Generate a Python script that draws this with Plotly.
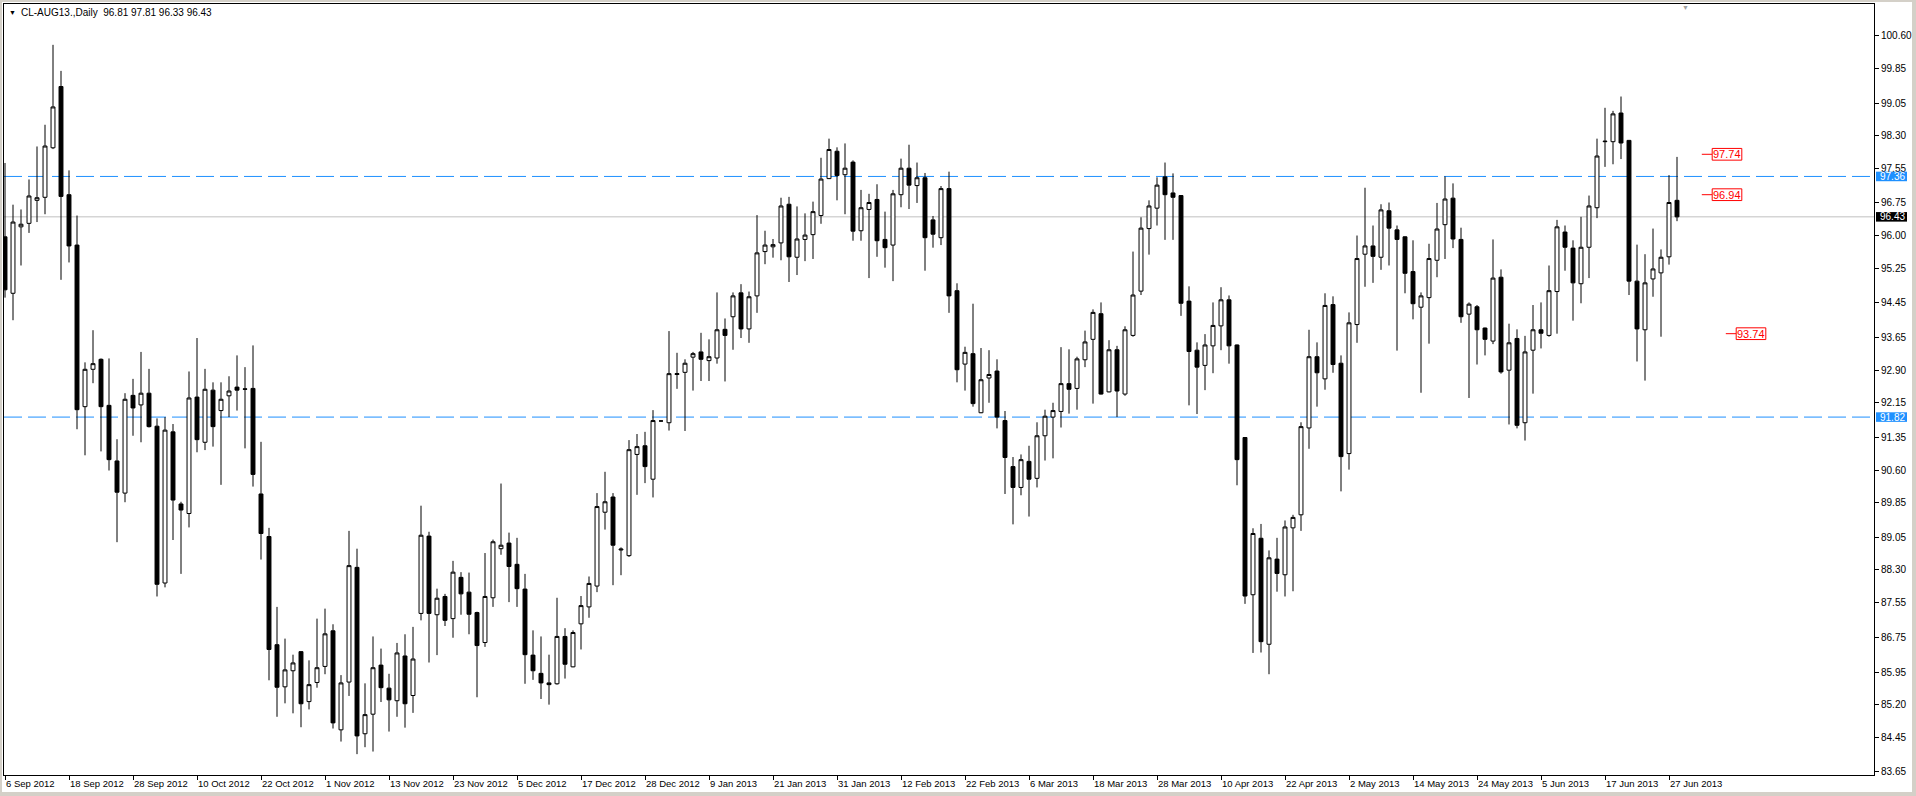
import plotly.graph_objects as go

# ---------------- data ----------------
date_labels = ["6 Sep 2012", "18 Sep 2012", "28 Sep 2012", "10 Oct 2012", "22 Oct 2012",
               "1 Nov 2012", "13 Nov 2012", "23 Nov 2012", "5 Dec 2012", "17 Dec 2012",
               "28 Dec 2012", "9 Jan 2013", "21 Jan 2013", "31 Jan 2013", "12 Feb 2013",
               "22 Feb 2013", "6 Mar 2013", "18 Mar 2013", "28 Mar 2013", "10 Apr 2013",
               "22 Apr 2013", "2 May 2013", "14 May 2013", "24 May 2013", "5 Jun 2013",
               "17 Jun 2013", "27 Jun 2013"]
bars_per_label = 8

opens = [95.97, 94.67, 96.20, 96.28, 96.81, 96.88, 98.02, 99.43, 96.94, 95.78,
         92.06, 92.92, 93.15, 92.09, 90.81, 90.07, 92.32, 92.10, 92.37, 91.61,
         88.00, 91.48, 89.82, 89.60, 92.28, 91.24, 92.44, 91.97, 92.31, 92.51,
         92.47, 92.48, 90.05, 89.07, 86.58, 85.61, 85.98, 86.42, 85.27, 85.71,
         86.08, 86.90, 84.62, 85.72, 88.36, 84.53, 84.98, 86.11, 85.58, 85.29,
         86.32, 85.41, 87.30, 89.08, 87.27, 87.69, 87.18, 88.13, 87.79, 87.32,
         86.63, 87.66, 88.79, 88.92, 88.43, 87.86, 86.34, 85.92, 85.70, 85.68,
         86.77, 86.07, 87.06, 87.45, 87.93, 89.63, 89.98, 88.76, 88.63, 90.96,
         91.16, 90.39, 91.73, 91.69, 92.80, 92.85, 93.20, 93.32, 93.12, 93.18,
         93.84, 94.13, 94.68, 93.85, 94.61, 95.63, 95.74, 95.83, 96.72, 95.50,
         95.91, 96.02, 96.46, 97.31, 97.94, 97.40, 97.69, 96.11, 96.60, 96.83,
         95.91, 95.78, 96.94, 97.55, 97.15, 97.33, 96.36, 95.95, 97.08, 94.73,
         93.04, 93.28, 91.92, 92.72, 92.88, 91.74, 90.68, 90.20, 90.80, 90.41,
         91.39, 91.82, 91.95, 92.59, 92.48, 93.14, 93.61, 94.20, 92.40, 93.37,
         92.35, 93.70, 94.72, 96.16, 96.63, 97.35, 96.98, 96.92, 94.49, 93.36,
         93.01, 93.46, 93.92, 94.52, 93.48, 91.35, 87.73, 89.03, 86.59, 88.55,
         88.19, 89.27, 89.57, 91.57, 93.21, 92.70, 94.41, 93.06, 90.98, 93.95,
         95.57, 95.76, 95.50, 96.57, 96.13, 95.97, 95.17, 94.35, 94.57, 95.43,
         96.25, 96.86, 95.91, 94.19, 94.36, 93.87, 93.57, 95.04, 92.90, 93.63,
         91.69, 93.36, 93.83, 93.70, 94.71, 96.08, 95.71, 94.89, 95.73, 96.64,
         98.16, 98.16, 98.82, 98.19, 94.95, 93.83, 95.00, 95.14, 95.51, 96.81]
highs = [97.67, 96.71, 96.60, 97.29, 98.05, 98.55, 100.39, 99.79, 97.50, 96.46,
         93.08, 93.82, 93.17, 93.17, 91.31, 92.37, 92.70, 93.32, 92.93, 91.79,
         91.82, 91.66, 89.87, 92.87, 93.64, 92.93, 92.62, 92.62, 92.76, 93.24,
         92.97, 93.47, 91.25, 89.27, 87.45, 86.72, 86.35, 86.43, 86.22, 87.18,
         87.41, 87.05, 85.88, 89.20, 88.79, 85.69, 86.77, 86.49, 85.91, 86.62,
         86.82, 86.99, 89.78, 89.18, 87.87, 87.75, 88.51, 88.25, 88.24, 87.34,
         88.69, 89.00, 90.29, 89.16, 89.04, 88.21, 86.91, 86.77, 86.35, 87.66,
         86.96, 86.91, 87.70, 88.15, 90.07, 90.56, 90.07, 88.82, 91.29, 91.43,
         91.48, 91.98, 91.74, 93.80, 93.30, 93.15, 93.32, 93.76, 93.61, 94.69,
         94.09, 94.69, 94.88, 94.71, 96.47, 96.11, 95.92, 96.87, 96.89, 96.67,
         96.51, 96.78, 97.79, 98.23, 98.03, 98.12, 97.73, 97.05, 96.96, 97.18,
         96.55, 97.05, 97.77, 98.09, 97.68, 97.44, 96.45, 97.14, 97.47, 94.90,
         93.44, 94.43, 93.41, 93.36, 93.15, 91.96, 90.90, 90.96, 91.16, 91.70,
         91.99, 92.15, 93.43, 93.38, 93.21, 93.81, 94.30, 94.46, 93.59, 93.46,
         93.91, 95.63, 96.42, 96.81, 97.34, 97.68, 97.43, 96.93, 94.83, 93.54,
         93.73, 94.46, 94.81, 94.62, 93.49, 91.36, 89.26, 89.36, 88.75, 89.04,
         89.44, 89.57, 91.70, 93.83, 93.54, 94.67, 94.60, 93.24, 94.23, 96.00,
         97.10, 96.23, 96.72, 96.76, 96.23, 95.98, 95.89, 94.69, 95.81, 96.75,
         97.36, 97.20, 96.18, 94.46, 94.40, 93.88, 95.91, 95.22, 93.97, 93.84,
         93.69, 94.40, 94.46, 95.31, 96.36, 96.23, 95.89, 96.43, 96.92, 98.23,
         98.94, 98.87, 99.20, 98.20, 95.79, 95.57, 96.16, 95.68, 97.39, 97.81]
lows = [94.57, 94.05, 95.31, 96.06, 96.31, 96.49, 97.99, 94.98, 95.38, 91.54,
        90.94, 92.60, 91.03, 90.59, 88.94, 89.86, 91.39, 91.24, 91.58, 87.69,
        87.90, 88.99, 88.21, 89.28, 91.01, 91.06, 91.14, 90.26, 91.82, 91.97,
        91.10, 90.22, 88.54, 85.76, 84.92, 85.23, 85.00, 84.68, 85.09, 85.59,
        85.90, 84.65, 84.35, 85.40, 84.06, 84.22, 84.12, 85.26, 84.58, 84.92,
        84.67, 85.01, 87.14, 86.17, 86.34, 87.01, 86.74, 87.27, 86.82, 85.37,
        86.53, 87.45, 88.65, 87.56, 87.45, 85.68, 85.77, 85.33, 85.20, 85.66,
        85.80, 86.06, 86.47, 87.20, 87.79, 89.23, 87.95, 88.18, 88.60, 90.03,
        90.30, 89.97, 91.72, 91.51, 92.47, 91.50, 92.43, 92.65, 92.65, 93.05,
        92.64, 93.37, 93.64, 93.53, 94.22, 95.34, 95.49, 95.43, 94.93, 95.09,
        95.41, 95.46, 96.27, 97.30, 96.81, 96.49, 95.88, 95.88, 95.02, 95.51,
        95.26, 94.95, 96.65, 96.61, 96.75, 95.19, 95.72, 95.78, 94.22, 92.62,
        92.43, 92.06, 91.91, 92.15, 91.56, 90.05, 89.35, 90.02, 89.53, 90.20,
        90.82, 90.87, 91.58, 91.90, 91.99, 92.97, 92.13, 92.34, 92.39, 91.82,
        92.31, 93.67, 94.63, 95.56, 96.23, 95.90, 95.90, 94.15, 92.09, 91.89,
        92.44, 92.83, 93.36, 93.05, 90.25, 87.52, 86.39, 86.40, 85.90, 87.80,
        87.69, 87.81, 89.20, 91.09, 92.06, 92.45, 92.84, 90.11, 90.61, 93.53,
        94.82, 94.91, 95.21, 95.31, 93.35, 94.67, 94.07, 92.38, 93.51, 95.04,
        95.46, 95.71, 93.99, 92.26, 93.03, 93.24, 93.50, 92.82, 91.65, 91.56,
        91.28, 92.36, 93.40, 93.67, 93.74, 95.19, 94.04, 94.44, 95.02, 96.40,
        97.58, 97.64, 97.76, 94.63, 93.10, 92.66, 94.59, 93.67, 95.33, 96.33]
closes = [94.75, 96.31, 96.26, 96.91, 96.87, 98.06, 98.96, 96.90, 95.76, 91.99,
          92.92, 93.05, 92.06, 90.84, 90.09, 92.23, 92.03, 92.37, 91.60, 87.97,
          91.52, 89.91, 89.68, 92.26, 91.30, 92.46, 91.60, 92.23, 92.42, 92.44,
          92.46, 90.50, 89.14, 86.47, 85.60, 86.00, 86.16, 85.22, 85.66, 86.05,
          86.83, 84.78, 85.70, 88.40, 84.48, 84.97, 86.05, 85.59, 85.31, 86.39,
          85.22, 86.25, 89.10, 87.30, 87.65, 87.14, 88.25, 87.75, 87.28, 86.56,
          87.69, 88.95, 88.87, 88.38, 87.87, 86.35, 85.98, 85.70, 85.66, 86.77,
          86.13, 86.86, 87.48, 87.99, 89.76, 89.87, 88.87, 88.78, 91.07, 91.14,
          90.68, 91.74, 91.73, 92.82, 92.82, 93.06, 93.28, 93.15, 93.21, 93.83,
          93.70, 94.61, 93.85, 94.59, 95.60, 95.78, 95.79, 96.68, 95.51, 95.92,
          96.01, 96.55, 97.30, 97.98, 97.38, 97.55, 96.10, 96.64, 96.76, 95.88,
          95.72, 96.96, 97.55, 97.16, 97.33, 95.95, 96.03, 97.08, 94.61, 92.91,
          93.31, 92.13, 92.68, 92.80, 91.82, 90.89, 90.20, 90.84, 90.39, 91.39,
          91.84, 91.97, 92.59, 92.46, 93.16, 93.55, 94.23, 92.35, 93.37, 92.42,
          93.83, 94.63, 96.17, 96.68, 97.16, 96.94, 96.88, 94.44, 93.33, 92.97,
          93.48, 93.93, 94.52, 93.46, 90.84, 87.70, 89.14, 86.65, 88.58, 88.22,
          89.29, 89.51, 91.60, 93.21, 92.84, 94.39, 93.03, 90.91, 93.99, 95.47,
          95.76, 95.52, 96.59, 96.17, 95.91, 95.13, 94.43, 94.61, 95.47, 96.15,
          96.84, 95.92, 94.13, 94.42, 93.83, 93.61, 95.02, 92.86, 93.53, 91.63,
          93.32, 93.83, 93.75, 94.73, 96.20, 95.73, 94.91, 95.73, 96.68, 97.83,
          98.17, 98.80, 98.13, 94.95, 93.85, 94.91, 95.23, 95.50, 96.76, 96.43]

price_tick_labels = ["100.60", "99.85", "99.05", "98.30", "97.55", "96.75", "96.00",
                     "95.25", "94.45", "93.65", "92.90", "92.15", "91.35", "90.60",
                     "89.85", "89.05", "88.30", "87.55", "86.75", "85.95", "85.20",
                     "84.45", "83.65"]

level_lines = [97.36, 91.82]
last_price = 96.43
title_text = "CL-AUG13.,Daily  96.81 97.81 96.33 96.43"
marker_texts = ["97.74", "96.94", "93.74"]

# ---------------- layout / positions ----------------
W, H = 1916, 796
ML, MR, MT, MB = 4, 42, 4, 21
PW, PH = W - ML - MR, H - MT - MB
y_range = [83.58, 101.33]
x_range = [-0.125, 233.625]


def px_x(px):
    return (px - ML) / PW


def px_y(py):
    return (H - MB - py) / PH


marker_levels = [97.87, 96.94, 93.74]
marker_box_left = [213.4, 213.4, 216.4]
marker_box_w = 3.7
marker_stem = 1.3
marker_half_h = 0.135

n = len(opens)
xs = list(range(n))

fig = go.Figure()
fig.add_trace(go.Candlestick(
    x=xs, open=opens, high=highs, low=lows, close=closes,
    increasing=dict(line=dict(color="black", width=1), fillcolor="white"),
    decreasing=dict(line=dict(color="black", width=1), fillcolor="black"),
    whiskerwidth=0, hoverinfo="skip", showlegend=False,
))

shapes = []
for lv in level_lines:
    shapes.append(dict(type="line", xref="paper", yref="y", x0=0, x1=1, y0=lv, y1=lv,
                       line=dict(color="#1e90ff", width=1, dash="18px,6px"), layer="below"))
shapes.append(dict(type="line", xref="paper", yref="y", x0=0, x1=1, y0=last_price, y1=last_price,
                   line=dict(color="#c0c0c0", width=1), layer="below"))

annotations = []
# axis price boxes
for lv, bg in [(level_lines[0], "#1e90ff"), (level_lines[1], "#1e90ff"), (last_price, "black")]:
    shapes.append(dict(type="rect", xref="paper", yref="y", x0=px_x(1876), x1=px_x(1907),
                       y0=lv - 0.11, y1=lv + 0.11, fillcolor=bg, line=dict(width=0), layer="above"))
    annotations.append(dict(xref="paper", yref="y", x=px_x(1878), y=lv, xanchor="left",
                            yanchor="middle", text=f"{lv:.2f}", showarrow=False,
                            font=dict(color="white", size=10, family="Liberation Sans")))

# red price markers
for txt, lv, bx in zip(marker_texts, marker_levels, marker_box_left):
    shapes.append(dict(type="line", xref="x", yref="y", x0=bx - marker_stem, x1=bx, y0=lv, y1=lv,
                       line=dict(color="red", width=1)))
    shapes.append(dict(type="rect", xref="x", yref="y", x0=bx, x1=bx + marker_box_w,
                       y0=lv - marker_half_h, y1=lv + marker_half_h,
                       line=dict(color="red", width=1), fillcolor="white"))
    annotations.append(dict(xref="x", yref="y", x=bx + marker_box_w / 2, y=lv, xanchor="center",
                            yanchor="middle", text=txt, showarrow=False,
                            font=dict(color="red", size=11, family="Liberation Sans")))

# title
annotations.append(dict(xref="paper", yref="paper", x=px_x(7), y=px_y(12.5), xanchor="left",
                        yanchor="middle", text="\u25BC", showarrow=False,
                        font=dict(color="black", size=7)))
annotations.append(dict(xref="paper", yref="paper", x=px_x(19), y=px_y(12.5), xanchor="left",
                        yanchor="middle", text=title_text, showarrow=False,
                        font=dict(color="black", size=10, family="Liberation Sans")))
# small shift marker at top
annotations.append(dict(xref="x", yref="paper", x=210.1, y=px_y(2), xanchor="center",
                        yanchor="top", text="\u25BC", showarrow=False,
                        font=dict(color="#a0a0a0", size=7)))

# outer window frame
for (a, b, c, d) in [(0, 2, 0, H), (0, W, 0, 2), (W - 4, W, 0, H), (0, W, H - 4, H)]:
    shapes.append(dict(type="rect", xref="paper", yref="paper", x0=px_x(a), x1=px_x(b),
                       y0=px_y(d), y1=px_y(c), fillcolor="#d4d0c8", line=dict(width=0)))

fig.update_layout(
    width=W, height=H, template="none",
    margin=dict(l=ML, r=MR, t=MT, b=MB, pad=0),
    paper_bgcolor="white", plot_bgcolor="white",
    font=dict(family="Liberation Sans", size=10, color="black"),
    showlegend=False, boxgap=0.3, boxgroupgap=0.3,
    shapes=shapes, annotations=annotations,
    xaxis=dict(range=x_range, rangeslider=dict(visible=False), showgrid=False, zeroline=False,
               tickmode="array", tickvals=[i * bars_per_label for i in range(len(date_labels))],
               ticktext=date_labels, ticks="outside", ticklen=4, tickcolor="black",
               ticklabelposition="outside right",
               showline=True, linecolor="black", linewidth=1, mirror=True,
               tickfont=dict(size=9.5, color="black", family="Liberation Sans")),
    yaxis=dict(range=y_range, side="right", showgrid=False, zeroline=False,
               tickmode="array", tickvals=[float(t) for t in price_tick_labels],
               ticktext=price_tick_labels, ticks="outside", ticklen=4, tickcolor="black",
               showline=True, linecolor="black", linewidth=1, mirror=True,
               tickfont=dict(size=10, color="black", family="Liberation Sans")),
)

fig.write_html("out.html", config={"displayModeBar": False},
               post_script="document.body.style.margin='0';document.body.style.overflow='hidden';")
